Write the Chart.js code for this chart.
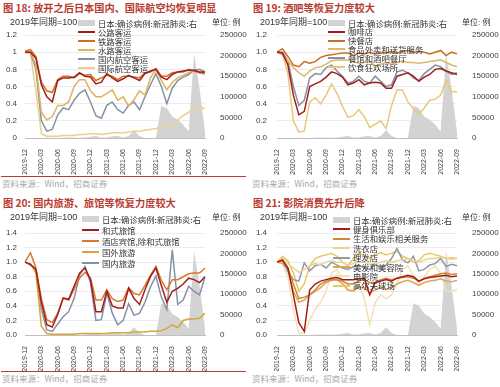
<!DOCTYPE html>
<html><head><meta charset="utf-8">
<script src="https://cdn.jsdelivr.net/npm/chart.js@4.4.0/dist/chart.umd.min.js"></script>
<style>
html,body{margin:0;padding:0;background:#fff;}
body{width:500px;height:387px;position:relative;overflow:hidden;font-family:"Noto Sans CJK SC",sans-serif;}
.abs{position:absolute;white-space:nowrap;}
.title{font-size:10.2px;font-weight:bold;color:#b83a30;line-height:12px;}
.src{font-size:8.5px;color:#a8a8a8;line-height:10px;}
.rule{position:absolute;height:1px;background:#b83a30;}
.note{font-size:9px;color:#333;font-family:"Liberation Sans","Noto Sans CJK SC",sans-serif;line-height:10px;}
.unit{font-size:8px;color:#333;font-family:"Liberation Sans","Noto Sans CJK SC",sans-serif;line-height:10px;}
.lg{font-size:8.4px;color:#333;line-height:10px;}
canvas{position:absolute;}
.ov{z-index:5;}
</style></head><body>
<script>
// ---------------- DATA ----------------
const months = ['2019-12','2020-01','2020-02','2020-03','2020-04','2020-05','2020-06','2020-07','2020-08','2020-09','2020-10','2020-11','2020-12',
'2021-01','2021-02','2021-03','2021-04','2021-05','2021-06','2021-07','2021-08','2021-09','2021-10','2021-11','2021-12',
'2022-01','2022-02','2022-03','2022-04','2022-05','2022-06','2022-07','2022-08','2022-09'];
const shownTicks = ['2019-12','2020-03','2020-06','2020-09','2020-12','2021-03','2021-06','2021-09','2021-12','2022-03','2022-06','2022-09'];
const casesLabel = '日本:确诊病例:新冠肺炎:右';
const japanCases = [0,0,50,100,400,100,50,600,1000,500,600,1500,3000,5000,1200,1300,4000,5000,1500,5000,19000,5000,300,100,300,
78000,72000,52000,44000,32000,16000,205000,120000,15000];
const rightTicks = [0,50000,100000,150000,200000,250000];

// Fig 18
const titles = ['图 18: 放开之后日本国内、国际航空均恢复明显','图 19: 酒吧等恢复力度较大','图 20: 国内旅游、旅馆等恢复力度较大','图 21: 影院消费先升后降'];
const road   = [1.0,1.0,0.93,0.62,0.48, 0.42,0.67,0.70,0.70,0.71, 0.76,0.72,0.71,0.63,0.65, 0.75,0.70,0.66,0.69,0.73, 0.70,0.67,0.75,0.78,0.80, 0.71,0.68,0.74,0.77,0.78, 0.79,0.79,0.77,0.77];
const rail   = [1.01,1.03,0.95,0.65,0.55, 0.53,0.68,0.72,0.72,0.70, 0.75,0.73,0.74,0.67,0.70, 0.73,0.72,0.68,0.72,0.72, 0.71,0.70,0.76,0.77,0.81, 0.72,0.72,0.76,0.77,0.77, 0.80,0.78,0.76,0.76];
const water  = [1.0,1.0,0.85,0.30,0.21, 0.25,0.38,0.38,0.42,0.60, 0.68,0.68,0.55,0.48,0.48, 0.52,0.56,0.44,0.48,0.37, 0.45,0.55,0.50,0.70,0.80, 0.67,0.56,0.65,0.70,0.73, 0.76,0.79,0.76,0.74];
const domAir = [1.0,1.0,0.80,0.20,0.08, 0.10,0.27,0.35,0.33,0.44, 0.52,0.56,0.42,0.26,0.23, 0.38,0.42,0.33,0.29,0.38, 0.42,0.33,0.48,0.62,0.75, 0.60,0.40,0.58,0.67,0.71, 0.74,0.79,0.80,0.77];
const intAir = [1.0,0.98,0.55,0.05,0.02, 0.02,0.02,0.03,0.03,0.03, 0.04,0.04,0.05,0.05,0.04, 0.05,0.06,0.06,0.06,0.07, 0.08,0.08,0.09,0.10,0.11, 0.13,0.15,0.14,0.21,0.26, 0.30,0.34,0.36,0.34];
// Fig 19
const coffee   = [1.0,0.99,0.85,0.50,0.27, 0.31,0.60,0.63,0.66,0.71, 0.77,0.75,0.71,0.62,0.64, 0.68,0.62,0.64,0.65,0.64, 0.58,0.58,0.72,0.74,0.76, 0.72,0.66,0.71,0.74,0.80, 0.81,0.78,0.76,0.74];
const fastfood = [1.0,1.04,0.95,0.85,0.83, 0.89,0.87,0.89,0.94,0.96, 0.97,0.98,0.99,0.99,0.96, 0.99,0.98,1.0,0.98,0.99, 0.99,1.01,0.99,1.01,1.02, 1.0,1.01,1.0,0.98,1.0, 1.02,0.96,1.0,0.98];
const delivery = [1.0,0.97,0.90,0.82,0.76, 0.72,0.78,0.82,0.83,0.86, 0.90,0.91,0.91,0.91,0.89, 0.87,0.88,0.89,0.84,0.86, 0.88,0.86,0.88,0.90,0.88, 0.88,0.87,0.88,0.89,0.90, 0.91,0.88,0.85,0.83];
const pubs     = [1.0,1.0,0.90,0.60,0.38, 0.44,0.70,0.75,0.74,0.82, 0.85,0.78,0.72,0.64,0.66, 0.72,0.66,0.64,0.72,0.66, 0.60,0.62,0.77,0.79,0.76, 0.70,0.67,0.75,0.80,0.85, 0.83,0.78,0.74,0.76];
const party    = [1.0,0.98,0.75,0.20,0.07, 0.08,0.42,0.47,0.40,0.50, 0.63,0.52,0.37,0.24,0.26, 0.33,0.25,0.12,0.16,0.20, 0.11,0.38,0.56,0.56,0.42, 0.34,0.28,0.35,0.44,0.45, 0.50,0.67,0.54,0.54];
// Fig 20
const ryokan   = [1.0,0.97,0.90,0.45,0.14, 0.11,0.28,0.51,0.49,0.67, 0.85,0.92,0.76,0.32,0.32, 0.60,0.40,0.37,0.37,0.64, 0.50,0.42,0.62,0.80,0.92, 0.68,0.45,0.60,0.64,0.70, 0.78,0.76,0.72,0.80];
const hotel    = [1.0,1.13,0.92,0.50,0.21, 0.17,0.30,0.50,0.48,0.63, 0.78,0.86,0.78,0.48,0.48, 0.62,0.50,0.46,0.48,0.65, 0.57,0.55,0.68,0.82,0.94, 0.75,0.62,0.76,0.76,0.80, 0.84,0.85,0.85,0.92];
const outbound = [1.0,0.98,0.85,0.12,0.02, 0.01,0.01,0.01,0.01,0.01, 0.02,0.02,0.02,0.02,0.02, 0.02,0.03,0.03,0.03,0.03, 0.04,0.04,0.04,0.05,0.05, 0.06,0.09,0.14,0.10,0.20, 0.22,0.22,0.23,0.30];
const domestic = [1.0,0.96,0.90,0.35,0.07, 0.05,0.15,0.25,0.32,0.50, 0.82,0.94,0.72,0.20,0.21, 0.58,0.30,0.14,0.20,0.43, 0.27,0.30,0.45,0.66,0.81, 0.52,0.35,1.17,0.42,0.48, 0.67,0.60,0.55,0.80];
// Fig 21
const gym     = [1.0,1.03,0.92,0.55,0.17, 0.05,0.62,0.70,0.74,0.76, 0.78,0.79,0.76,0.76,0.76, 0.77,0.78,0.55,0.72,0.74, 0.76,0.74,0.78,0.80,0.82, 0.80,0.74,0.77,0.79,0.80, 0.81,0.82,0.80,0.81];
const life    = [1.0,1.02,0.92,0.70,0.50, 0.52,0.55,0.62,0.70,0.74, 0.76,0.76,0.74,0.70,0.70, 0.74,0.76,0.72,0.72,0.76, 0.78,0.76,0.78,0.79,0.80, 0.78,0.74,0.78,0.80,0.82, 0.84,0.85,0.83,0.84];
const laundry = [1.0,1.05,0.98,0.92,0.86, 0.90,0.95,0.98,0.96,1.0, 1.02,1.0,1.0,0.96,0.98, 1.0,1.0,0.97,0.98,1.0, 1.02,1.0,1.02,1.03,1.05, 1.02,1.0,1.03,1.05,1.05, 1.07,1.05,1.04,1.05];
const barber  = [1.0,1.03,0.87,0.76,0.74, 0.99,0.88,0.95,0.97,0.92, 1.0,0.96,0.92,0.90,0.94, 0.96,0.92,0.90,0.98,0.92, 0.96,1.05,1.19,1.03,0.99, 1.08,0.88,0.90,0.96,0.98, 1.05,0.94,0.97,0.95];
const beauty  = [1.0,0.98,0.90,0.60,0.45, 0.48,0.55,0.60,0.65,0.72, 0.75,0.76,0.70,0.62,0.60, 0.66,0.65,0.58,0.62,0.66, 0.62,0.65,0.70,0.73,0.75, 0.72,0.68,0.72,0.74,0.75, 0.77,0.74,0.73,0.75];
const cinema  = [1.0,0.98,0.80,0.35,0.03, 0.02,0.20,0.35,0.45,0.60, 0.85,0.90,0.75,0.60,0.62, 0.70,0.50,0.14,0.45,0.55, 0.50,0.55,0.70,0.90,0.95, 0.82,0.70,0.80,0.90,0.95, 0.85,0.60,0.60,0.63];
const golf    = [1.0,1.08,1.02,0.85,0.60, 0.70,0.95,1.05,1.08,1.10, 1.12,1.08,1.00,0.95,1.05, 1.12,1.10,1.05,1.10,1.13, 1.10,1.12,1.15,1.08,1.05, 1.00,1.02,1.10,1.12,1.10, 1.08,1.05,1.06,1.05];

// --------------- PANELS ---------------
const RED='#a31d1d', ORG='#d0701e', BLUE='#8591a6';
const panels = [
 {ox:0, oy:0, L:25, R:45, T:19, H:38, ymax:1.2, dec:false, lgX:78, lgY:23, lgStep:9,
  series:[{n:'公路客运',d:road,c:RED},{n:'铁路客运',d:rail,c:ORG},{n:'水路客运',d:water,c:'#dfb25c'},{n:'国内航空客运',d:domAir,c:BLUE},{n:'国际航空客运',d:intAir,c:'#ead08a'}]},
 {ox:250, oy:0, L:27, R:43, T:19, H:38, ymax:1.2, dec:true, lgX:328, lgY:23, lgStep:8.8,
  series:[{n:'咖啡店',d:coffee,c:RED},{n:'快餐店',d:fastfood,c:'#c8701e'},{n:'食品外卖和送货服务',d:delivery,c:'#dcb868'},{n:'餐馆和酒吧餐厅',d:pubs,c:BLUE},{n:'饮食狂欢场所',d:party,c:'#e8c878'}]},
 {ox:0, oy:195, L:25, R:45, T:22, H:36, ymax:1.4, dec:true, lgX:82, lgY:219, lgStep:11,
  series:[{n:'和式旅馆',d:ryokan,c:RED},{n:'酒店宾馆,除和式旅馆',d:hotel,c:'#d8782a'},{n:'国外旅游',d:outbound,c:'#d4a838'},{n:'国内旅游',d:domestic,c:BLUE}]},
 {ox:250, oy:195, L:27, R:43, T:22, H:36, ymax:1.4, dec:true, lgX:333, lgY:220, lgStep:9.4,
  series:[{n:'健身俱乐部',d:gym,c:RED},{n:'生活和娱乐相关服务',d:life,c:'#d08a2e'},{n:'洗衣店',d:laundry,c:'#ecd48e'},{n:'理发店',d:barber,c:'#8e99ab'},{n:'美发和美容院',d:beauty,c:'#e0a456'},{n:'电影院',d:cinema,c:'#f1e0b4'},{n:'高尔夫球场',d:golf,c:'#e8c860'}]}
];

const F = '"Liberation Sans", Arial, sans-serif';
function addDiv(cls, x, y, text, extra){
  const d=document.createElement('div'); d.className='abs '+cls+' ov';
  d.style.left=x+'px'; d.style.top=y+'px'; if(text!==undefined) d.textContent=text;
  if(extra) Object.assign(d.style, extra);
  document.body.appendChild(d); return d;
}

panels.forEach((p,idx)=>{
  addDiv('title', p.ox+3, p.oy+2, titles[idx]);
  addDiv('note', p.ox+10, p.oy+17, '2019年同期=100');
  addDiv('unit', p.ox+212, p.oy+18, '单位: 例');
  addDiv('rule', p.ox+(idx%2?251:1), p.oy+176, undefined, {width:'245px'});
  addDiv('src', p.ox+2, p.oy+178, '资料来源：Wind，招商证券');
  const items=[{n:casesLabel, c:'#d3d3d3', area:true}].concat(p.series.map(s=>({n:s.n,c:s.c})));
  items.forEach((it,k)=>{
    const cy = p.lgY + k*p.lgStep;
    if(it.area){ addDiv('', p.lgX, cy-3, undefined, {width:'17px',height:'6px',background:it.c}); }
    else { addDiv('', p.lgX, cy-1, undefined, {width:'17px',height:'2px',background:it.c}); }
    addDiv('lg', p.lgX+20, cy-5.5, it.n);
  });
  const cv=document.createElement('canvas'); cv.width=250; cv.height=160;
  cv.style.left=p.ox+'px'; cv.style.top=(p.oy+16)+'px';
  document.body.appendChild(cv);
  const datasets=[{label:casesLabel, data:japanCases, yAxisID:'y2', fill:'origin', backgroundColor:'#d3d3d3', borderWidth:0, pointRadius:0, order:100}];
  p.series.forEach((s,k)=>datasets.push({label:s.n, data:s.d, borderColor:s.c, backgroundColor:s.c, borderWidth:1.5, pointRadius:0, fill:false, tension:0, yAxisID:'y', order:k+1}));
  new Chart(cv, {
    type:'line',
    data:{labels:months, datasets},
    options:{
      responsive:false, animation:false, events:[],
      layout:{padding:{top:p.T,left:0,right:0,bottom:0}},
      plugins:{legend:{display:false}, tooltip:{enabled:false}, title:{display:false}},
      scales:{
        x:{grid:{display:false}, border:{display:true,color:'#bfbfbf'},
           ticks:{autoSkip:false,minRotation:90,maxRotation:90,padding:3,color:'#404040',font:{size:7,family:F},
             callback:(v,i)=> shownTicks.includes(months[i]) ? months[i] : ''},
           afterFit:s=>{s.height=p.H;}},
        y:{position:'left', min:0, max:p.ymax,
           ticks:{stepSize:0.2, padding:(p.L===25?8:10), color:'#404040', font:{size:8,family:F},
             callback:v=> p.dec ? Number(v).toFixed(1) : String(parseFloat(Number(v).toFixed(1)))},
           grid:{color:'#ececec', drawTicks:false}, border:{display:false},
           afterFit:s=>{s.width=p.L;}},
        y2:{position:'right', min:0, max:250000,
           afterBuildTicks:s=>{s.ticks=rightTicks.map(v=>({value:v}));},
           ticks:{padding:7, color:'#404040', font:{size:8,family:F}, callback:v=>String(v)},
           grid:{display:false}, border:{display:false},
           afterFit:s=>{s.width=p.R;}}
      }
    }
  });
});
</script>
</body></html>
